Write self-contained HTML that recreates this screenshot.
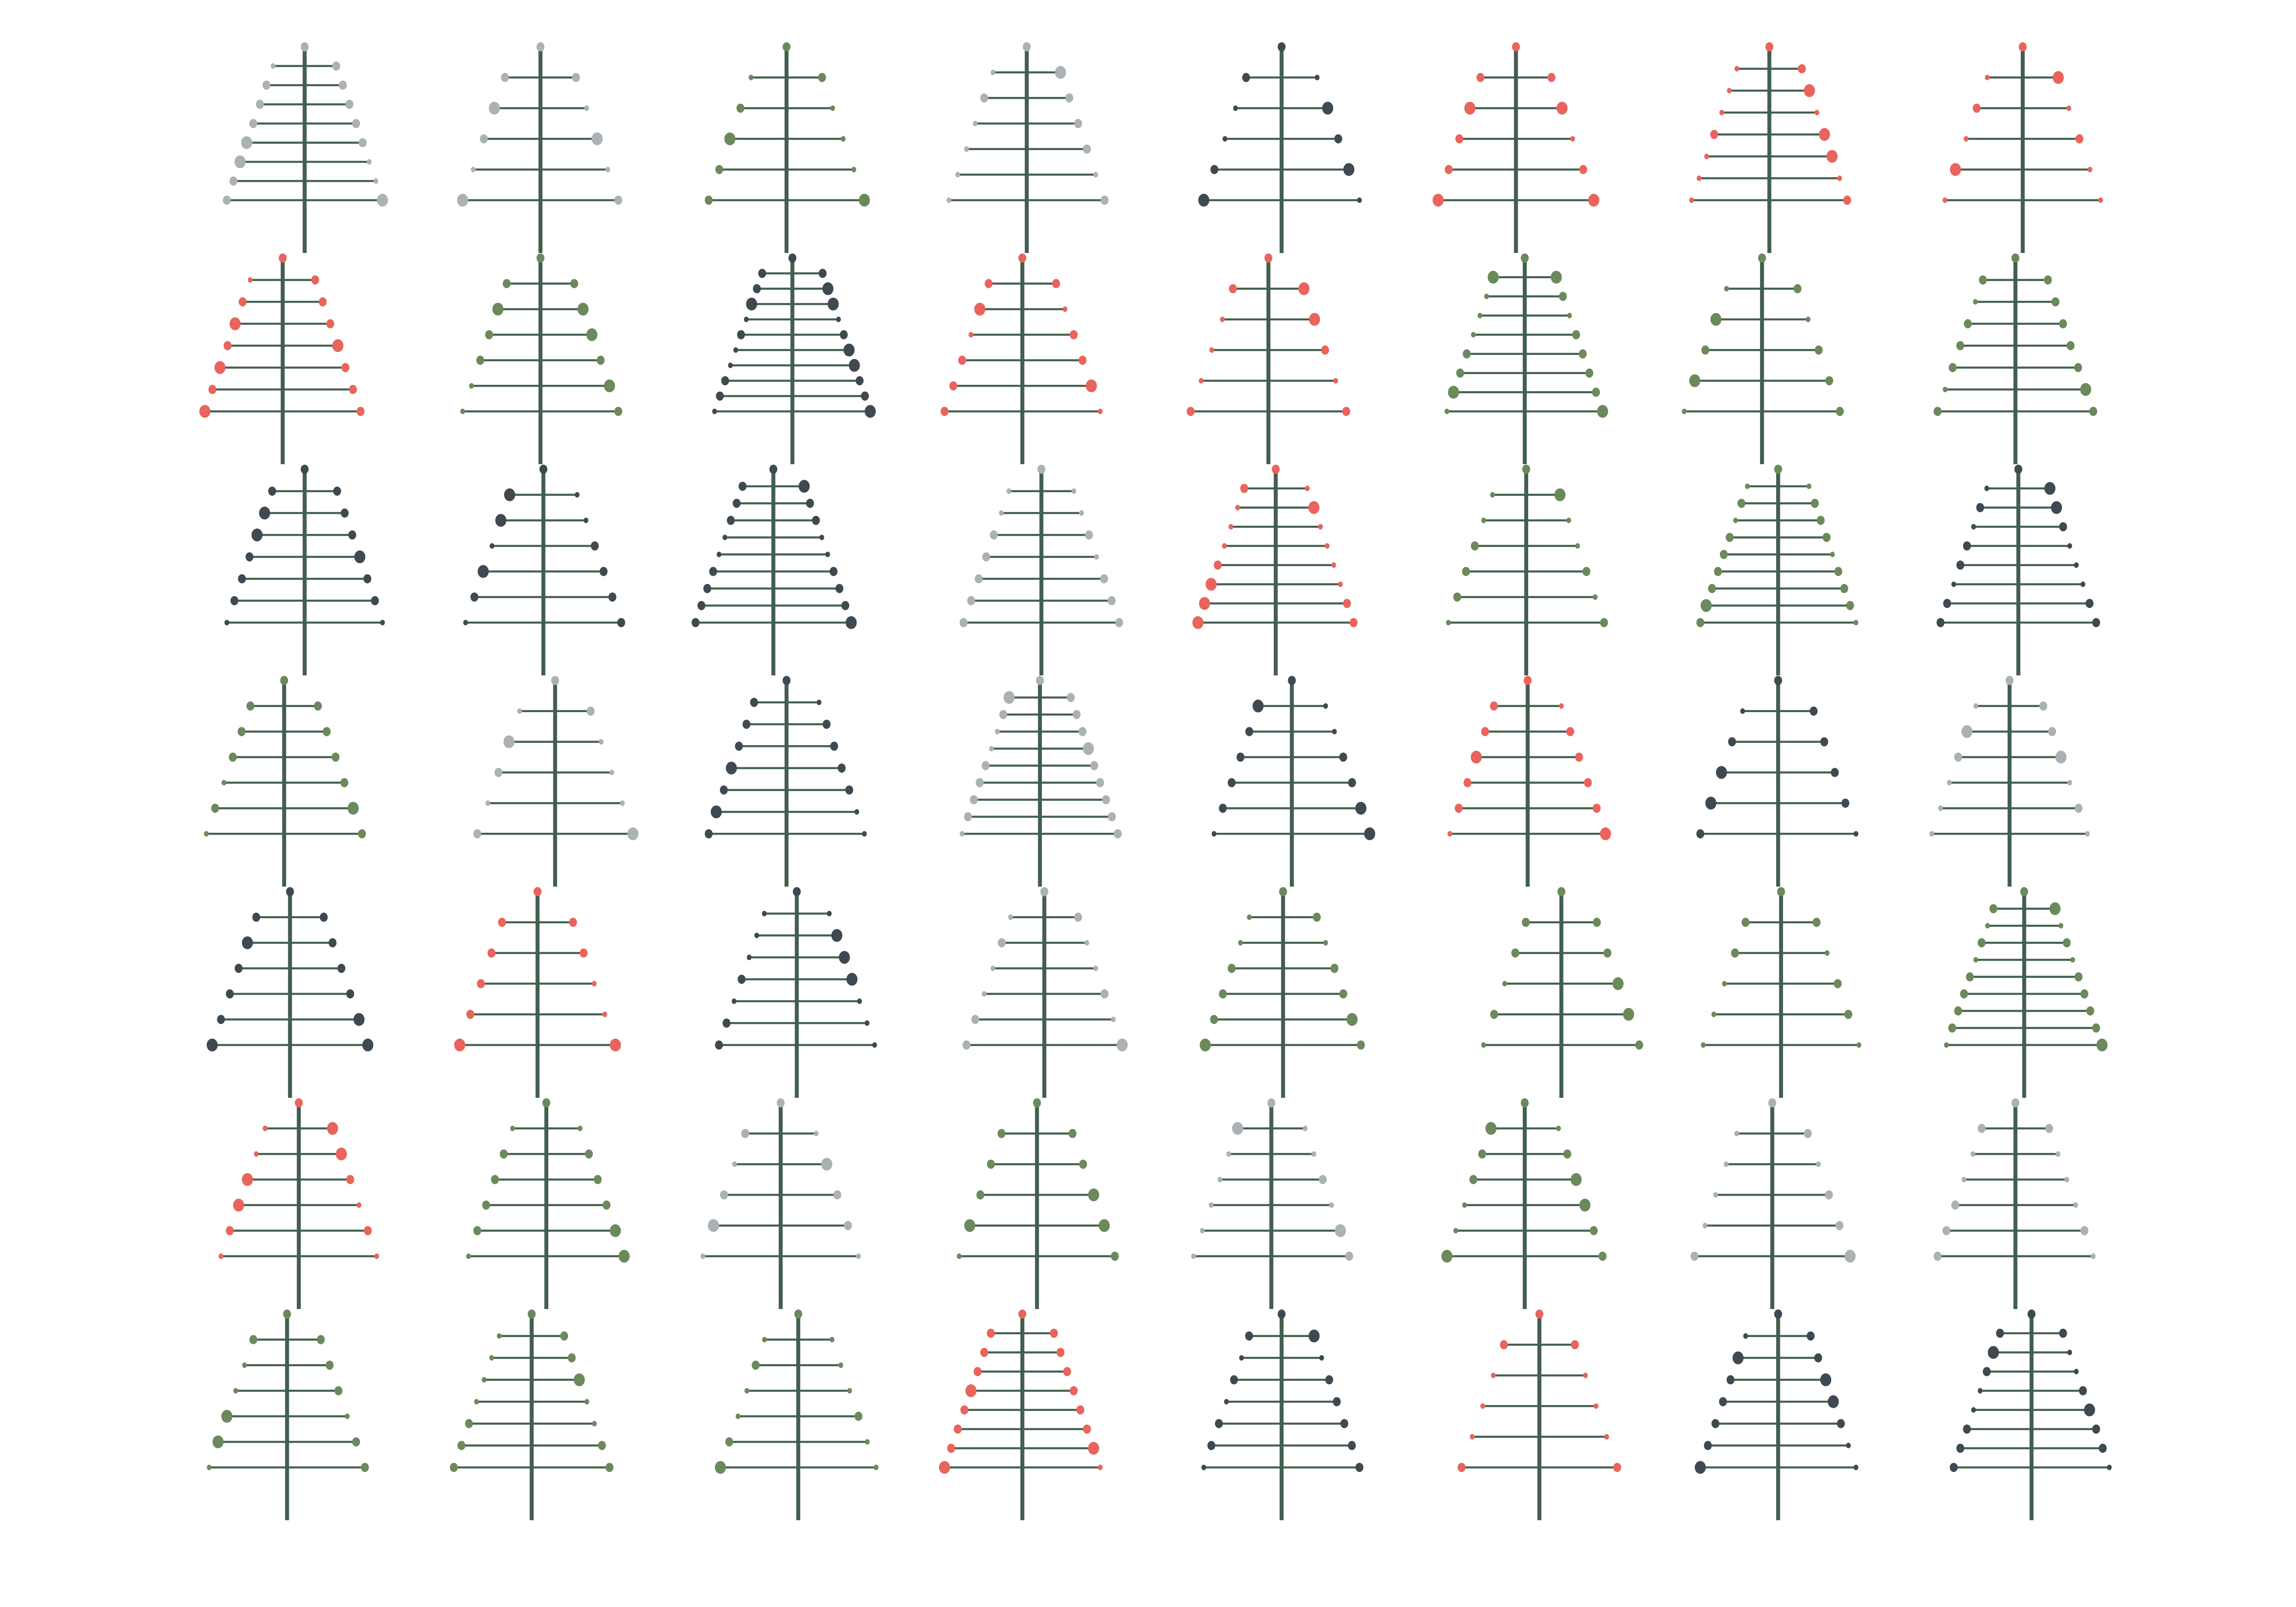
<!DOCTYPE html>
<html><head><meta charset="utf-8">
<style>
html,body{margin:0;padding:0;background:#fff;overflow:hidden;}
svg{display:block;width:100vw;height:100vh;}
</style></head>
<body>
<svg id="chart" viewBox="0 0 5800 3500" preserveAspectRatio="none" xmlns="http://www.w3.org/2000/svg">
<rect x="0" y="0" width="5800" height="3500" fill="#ffffff"/>
</svg>
<script>
// colour category per tree (G=gray, g=green, d=dark, r=red), row-major
const treeColors = [
 'G','G','g','G','d','r','r','r',
 'r','g','d','r','r','g','g','g',
 'd','d','d','G','r','g','g','d',
 'g','G','d','G','d','r','d','G',
 'd','r','d','G','g','g','g','g',
 'r','g','G','g','G','g','G','G',
 'g','g','g','r','d','r','d','d'
];
// left-side dot sizes per branch (1 small, 2 medium, 3 large)
const leftSizes = [
 [1,2,2,2,3,3,2,2],[2,3,2,1,3],[1,2,3,2,2],[1,2,1,1,1,1],[2,1,1,2,3],[2,3,2,2,3],[1,1,1,2,1,1,1],[1,2,1,3,1],
 [1,2,3,2,3,2,3],[2,3,2,2,1,1],[2,2,3,1,2,1,1,2,2,1],[2,3,1,2,2,2],[2,1,1,1,2],[3,1,1,1,2,2,3,1],[1,3,2,3,1],[2,1,2,2,2,1,2],
 [2,3,3,2,2,2,1],[3,3,1,3,2,1],[2,2,2,1,1,2,2,2,2],[1,1,2,2,2,2,2],[2,1,1,1,2,3,3,3],[1,1,2,2,2,1],[1,2,1,2,2,2,2,3,2],[1,2,1,2,2,1,2,2],
 [2,2,2,1,2,1],[1,3,2,1,2],[2,2,2,3,2,3,2],[3,2,1,1,2,2,2,2,1],[3,2,2,2,2,1],[2,2,3,2,2,1],[1,2,3,3,2],[1,3,2,1,1,1],
 [2,3,2,2,2,3],[2,2,2,2,3],[1,1,1,2,1,2,2],[1,2,1,1,2,2],[1,1,2,2,2,3],[2,2,1,2,1],[2,2,1,1,1],[2,1,2,1,2,2,2,2,1],
 [1,1,3,3,2,1],[1,2,2,2,2,1],[2,1,2,3,1],[2,2,2,3,1],[3,1,1,1,1,1],[3,2,2,1,1,3],[1,1,1,1,2],[2,1,1,2,2,2],
 [2,1,1,3,3,1],[1,1,1,1,2,2,2],[1,2,1,1,2,3],[2,2,2,3,2,2,2,3],[2,1,2,1,2,2,1],[2,1,1,1,2],[1,3,2,2,2,2,3],[2,3,2,1,1,2,2,2]
];
// right-side dot sizes per branch
const rightSizes = [
 [2,2,2,2,2,1,1,3],[2,1,3,1,2],[2,1,1,1,3],[3,2,2,2,1,2],[1,3,2,3,1],[2,3,1,2,3],[2,3,1,3,3,1,2],[3,1,2,1,1],
 [2,2,2,3,2,2,2],[2,3,3,2,3,2],[2,3,3,1,2,3,3,2,2,3],[2,1,2,2,3,1],[3,3,2,1,2],[3,2,1,2,2,2,2,3],[2,1,2,2,2],[2,2,2,2,2,3,2],
 [2,2,2,3,2,2,1],[1,1,2,2,2,2],[3,2,2,1,1,2,2,2,3],[1,1,2,1,2,2,2],[1,3,1,1,1,1,2,2],[3,1,1,2,1,2],[1,2,2,2,1,2,2,2,1],[3,3,2,1,1,1,2,2],
 [2,2,2,2,3,2],[2,1,1,1,3],[1,2,2,2,2,1,1],[2,2,2,3,2,2,2,2,2],[1,1,2,2,3,3],[1,2,2,2,2,3],[2,2,2,2,1],[2,2,3,1,2,1],
 [2,2,2,2,3,3],[2,2,1,1,3],[1,3,3,3,1,1,1],[2,1,1,2,1,3],[2,1,2,2,3,2],[2,2,3,3,2],[2,1,2,2,1],[3,1,2,1,2,2,2,2,3],
 [3,3,2,1,2,1],[1,2,2,2,3,3],[1,3,2,2,1],[2,2,3,3,2],[1,1,2,1,3,2],[1,2,3,3,2,2],[2,1,2,2,3],[2,1,1,1,2,1],
 [2,2,2,1,2,2],[2,2,3,1,1,2,2],[1,1,1,2,1,1],[2,2,2,2,2,2,3,1],[3,1,2,2,2,2,2],[2,1,1,1,2],[2,2,3,3,2,1,1],[2,1,1,2,3,2,2,1]
];
// trunk centre positions in overview units (layout, scaled to pixels)
const trunkCols = [
 [208,369,537,701,875,1035,1208,1381],
 [193,369,541,698,866,1041,1203,1376],
 [208,371,528,711,871,1042,1214,1378],
 [194,379,537,710,882,1043,1214,1372],
 [198,367,544,713,876,1066,1216,1382],
 [204,373,533,708,868,1041,1210,1376],
 [196,363,545,698,875,1051,1214,1387]
];

const palette = {G:'#abb1b4', g:'#6b8a5c', d:'#3f4952', r:'#e9645c'};
const radius = {1:6, 2:10, 3:14};
const NS = 'http://www.w3.org/2000/svg';
const svg = document.getElementById('chart');
const ROW0 = 102, ROWSTEP = 460, TRUNK = 449, SPAN = 334;
const xScale = v => v * 3.70;
const yBranch = (top, k, n) => top + (k + 1) * SPAN / n;
const halfW = off => 63 + 0.4 * off;

function mk(tag, attrs) {
  const e = document.createElementNS(NS, tag);
  for (const k in attrs) e.setAttribute(k, attrs[k]);
  return e;
}

for (let i = 0; i < treeColors.length; i++) {
  const row = Math.floor(i / 8), col = i % 8;
  const cx = xScale(trunkCols[row][col]);
  const top = ROW0 + row * ROWSTEP;
  const fill = palette[treeColors[i]];
  const g = mk('g', {});
  
  
  const L = leftSizes[i], R = rightSizes[i];
  const n = L.length;
  for (let k = 0; k < n; k++) {
    const y = yBranch(top, k, n);
    const hw = halfW(y - top);
    const br = mk('line', {x1: cx - hw, y1: y, x2: cx + hw, y2: y, stroke: '#44604f', 'stroke-width': 4.5});
    
    
    g.appendChild(br);
    const dl = mk('circle', {cx: cx - hw, cy: y, r: radius[L[k]], fill: fill});
    
    
    g.appendChild(dl);
    const dr = mk('circle', {cx: cx + hw, cy: y, r: radius[R[k]], fill: fill});
    
    
    g.appendChild(dr);
  }
  const trunk = mk('rect', {x: cx - 5, y: top, width: 10, height: TRUNK, fill: '#425e50'});
  
  
  g.appendChild(trunk);
  const star = mk('circle', {cx: cx, cy: top, r: 10, fill: fill});
  
  
  g.appendChild(star);
  svg.appendChild(g);
}
</script>
</body></html>
